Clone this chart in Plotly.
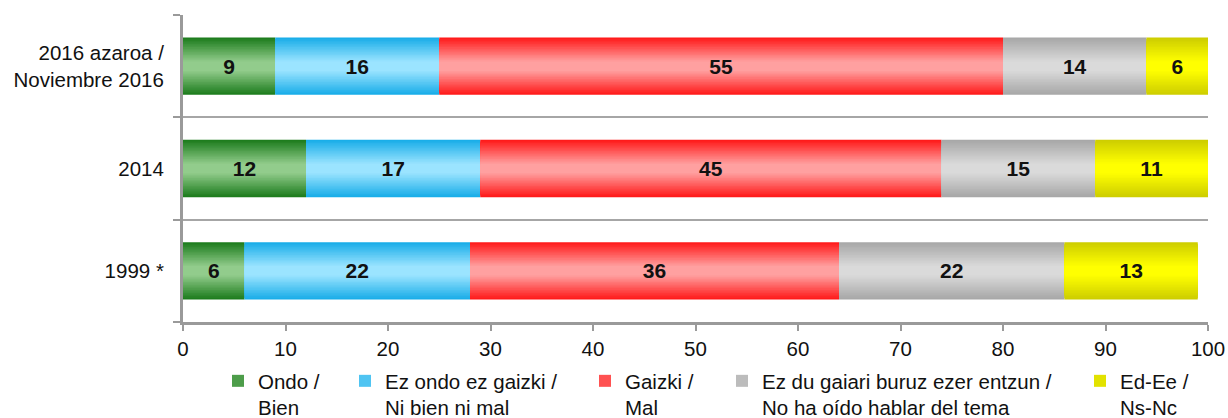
import numpy as np
import plotly.graph_objects as go

# ---- data ----
categories = ["2016 azaroa /<br>Noviembre 2016", "2014", "1999 *"]
series_names = [
    "Ondo /<br>Bien",
    "Ez ondo ez gaizki /<br>Ni bien ni mal",
    "Gaizki /<br>Mal",
    "Ez du gaiari buruz ezer entzun /<br>No ha oído hablar del tema",
    "Ed-Ee /<br>Ns-Nc",
]
ondo = [9, 12, 6]
ez_ondo = [16, 17, 22]
gaizki = [55, 45, 36]
ez_du = [14, 15, 22]
ed_ee = [6, 11, 13]
x_ticks = list(range(0, 101, 10))

# ---- styles ----
edge_colors = [(26, 122, 26), (22, 172, 232), (255, 22, 22), (166, 166, 166), (204, 204, 0)]
center_colors = [(146, 204, 140), (155, 228, 255), (255, 160, 160), (218, 218, 218), (255, 255, 0)]
W, H = 1228, 418
legend_text_px = [258, 385, 625, 762, 1120]   # left edge of legend text, in pixels
legend_top_px = 361
legend_ids = ["legend", "legend2", "legend3", "legend4", "legend5"]
BAR_W = 0.56
N_LAYERS = 18
FONT = "Liberation Sans, Arial, sans-serif"
FS = 20.5
AXIS_GRAY = "#9a9a9a"

values = np.array([ondo, ez_ondo, gaizki, ez_du, ed_ee], dtype=float)
bases = np.vstack([np.zeros(values.shape[1]), np.cumsum(values, axis=0)[:-1]])
ypos = np.arange(len(categories))[::-1].astype(float)
boundaries = list(np.arange(len(categories) + 1) - 0.5)
separators = list(np.arange(1, len(categories)) - 0.5)


def lerp(c0, c1, t):
    return "rgb(%d,%d,%d)" % tuple(round(a + (b - a) * t) for a, b in zip(c0, c1))


fig = go.Figure()
for i, name in enumerate(series_names):
    for k in range(N_LAYERS):
        frac = 1 - k / N_LAYERS
        d = 1 - (k + 0.5) / N_LAYERS
        t = max(0.0, (d - 0.15) / 0.85)
        fig.add_trace(go.Bar(
            x=values[i], y=ypos, base=bases[i], orientation="h",
            width=BAR_W * frac,
            marker=dict(color=lerp(center_colors[i], edge_colors[i], t), line=dict(width=0)),
            name=name, legend=legend_ids[i],
            showlegend=(k == N_LAYERS // 3),
            hoverinfo="skip",
        ))

# value labels
for i, name in enumerate(series_names):
    fig.add_trace(go.Bar(
        x=values[i], y=ypos, base=bases[i], orientation="h", width=BAR_W,
        marker=dict(color="rgba(0,0,0,0)", line=dict(width=0)),
        text=[f"<b>{int(v)}</b>" for v in values[i]],
        textposition="inside", insidetextanchor="middle", textangle=0,
        textfont=dict(family=FONT, size=21, color="#111111"),
        constraintext="none",
        showlegend=False, hoverinfo="skip", yaxis="y2",
    ))

legend_common = dict(
    orientation="v", xanchor="left", yanchor="top", xref="container", yref="container",
    y=1 - legend_top_px / H, valign="top",
    bgcolor="rgba(0,0,0,0)", font=dict(family=FONT, size=FS, color="#111111"),
    itemclick=False, itemdoubleclick=False,
)
legends = {lid: dict(legend_common, x=(px - 40) / W)
           for lid, px in zip(legend_ids, legend_text_px)}

fig.update_layout(
    width=W, height=H,
    margin=dict(l=183, r=1228 - 1208, t=15, b=418 - 322, autoexpand=False),
    plot_bgcolor="white", paper_bgcolor="white",
    barmode="overlay",
    font=dict(family=FONT, size=FS, color="#111111"),
    xaxis=dict(
        range=[0, 100], tickvals=x_ticks, ticks="outside", ticklen=6, tickwidth=2,
        tickcolor=AXIS_GRAY, showline=True, linecolor=AXIS_GRAY, linewidth=3,
        showgrid=False, zeroline=False, fixedrange=True, automargin=False,
    ),
    yaxis=dict(
        range=[-0.5, len(categories) - 0.5], tickvals=list(ypos), ticktext=categories,
        ticks="outside", ticklen=8, tickcolor="rgba(0,0,0,0)",
        showline=True, linecolor=AXIS_GRAY, linewidth=3, automargin=False,
        showgrid=False, zeroline=False, fixedrange=True, ticklabelstandoff=4,
        minor=dict(tickvals=boundaries, ticks="outside", ticklen=7, tickwidth=2,
                   tickcolor=AXIS_GRAY, showgrid=False),
    ),
    yaxis2=dict(
        overlaying="y", range=[-0.5, len(categories) - 0.5], tickvals=separators,
        showgrid=True, gridcolor="#a6a6a6", gridwidth=1.5, showticklabels=False,
        ticks="", showline=False, zeroline=False, fixedrange=True, automargin=False,
    ),
    **legends,
)

# remove the page's default body margin so the 1228x418 figure fills the window exactly
fig.write_html(
    "out.html",
    config={"displayModeBar": False},
    post_script="document.body.style.margin='0';document.body.style.overflow='hidden';",
)
